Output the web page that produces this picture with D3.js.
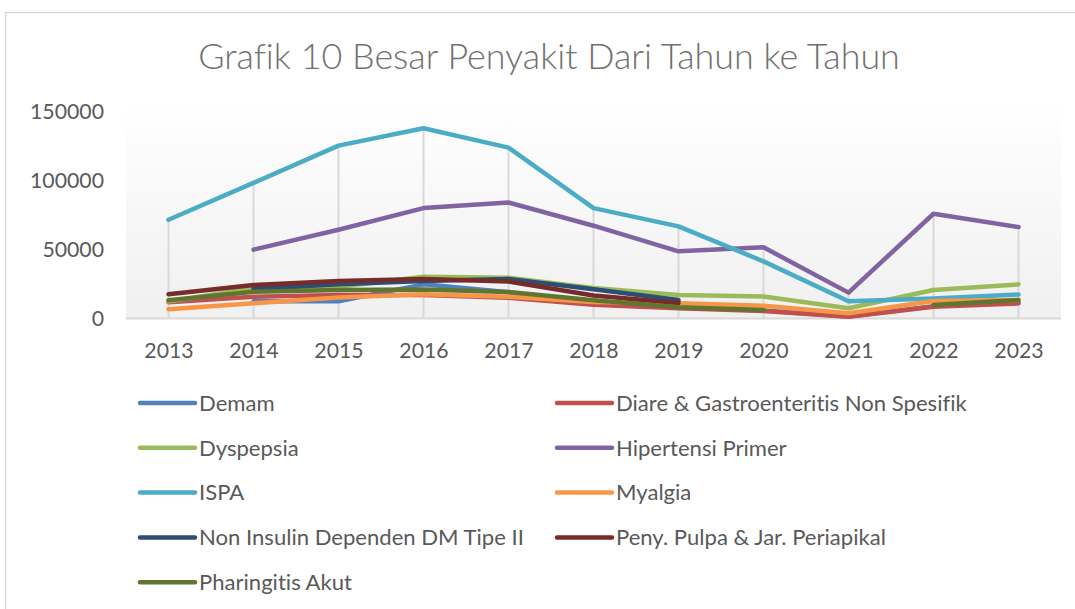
<!DOCTYPE html>
<html>
<head>
<meta charset="utf-8">
<script src="https://cdn.jsdelivr.net/npm/d3@7"></script>
<style>
  html, body { margin: 0; padding: 0; background: #fff; }
  svg { display: block; font-family: Lato, 'Open Sans', sans-serif; font-variant-ligatures: none; }
</style>
</head>
<body>
<svg id="chart" width="1075" height="609"></svg>
<script>
var years = ['2013', '2014', '2015', '2016', '2017', '2018', '2019', '2020', '2021', '2022', '2023']
var yTicks = [0, 50000, 100000, 150000]

var demam = [null, 12500, 12500, 24800, 19000, 10500, 8000, 5800, 1500, 9000, 11500]
var diare = [11800, 15800, 17000, 17000, 15000, 10000, 7400, 5500, 1300, 8600, 11000]
var dyspepsia = [12300, 22000, 23000, 30400, 29600, 22100, 17000, 16000, 7400, 20700, 24800]
var hipertensi = [null, 50000, 64500, 80200, 84300, 67400, 48800, 51700, 18800, 76100, 66400]
var ispa = [71700, 98500, 125600, 138200, 124100, 80200, 66900, 41500, 12500, 14500, 17400]
var myalgia = [6700, 11000, 15300, 17600, 15800, 12000, 11000, 9200, 3800, 12700, 13400]
var nonInsulin = [null, 21500, 24800, 27200, 28700, 21300, 13400, null, null, null, null]
var penyPulpa = [17600, 24300, 27200, 28700, 26900, 16700, 11300, null, null, null, null]
var pharingitis = [13200, 19500, 20700, 21000, 19300, 13200, 8100, 6200, null, 9800, 13400]

var seriesNames = [
  'Demam',
  'Diare & Gastroenteritis Non Spesifik',
  'Dyspepsia',
  'Hipertensi Primer',
  'ISPA',
  'Myalgia',
  'Non Insulin Dependen DM Tipe II',
  'Peny. Pulpa & Jar. Periapikal',
  'Pharingitis Akut'
]
var seriesValues = [demam, diare, dyspepsia, hipertensi, ispa, myalgia, nonInsulin, penyPulpa, pharingitis]
var seriesColors = ['#4F81BD', '#C0504D', '#9BBB59', '#8064A2', '#4BACC6', '#F79646', '#2C4D75', '#772C2A', '#5F7530']

var svg = d3.select('#chart'),
  textColor = '#595959',
  plot = { left: 126, right: 1061, top: 100, bottom: 318.5 }

var x = d3
  .scalePoint()
  .domain(years)
  .range([plot.left, plot.right])
  .padding(0.5)
var y = d3
  .scaleLinear()
  .domain([0, 150000])
  .range([plot.bottom, 112])

// scale a text's font so that it spans the given width
function fitWidth(sel, width) {
  var len = sel.node().getComputedTextLength()
  var size = parseFloat(sel.style('font-size'))
  return size * width / len
}

// chart frame
svg
  .append('rect')
  .attr('x', 5.5)
  .attr('y', 12.5)
  .attr('width', 1080)
  .attr('height', 610)
  .attr('fill', '#fff')
  .attr('stroke', '#d9d9d9')
  .attr('stroke-width', 1.5)

// plot background gradient
var grad = svg
  .append('defs')
  .append('linearGradient')
  .attr('id', 'plotBg')
  .attr('x1', 0)
  .attr('x2', 0)
  .attr('y1', 0)
  .attr('y2', 1)
grad.append('stop').attr('offset', '0%').attr('stop-color', '#ffffff')
grad.append('stop').attr('offset', '100%').attr('stop-color', '#f0f0f0')

svg
  .append('rect')
  .attr('x', plot.left)
  .attr('y', plot.top)
  .attr('width', plot.right - plot.left)
  .attr('height', plot.bottom - plot.top)
  .attr('fill', 'url(#plotBg)')

// title
var title = svg
  .append('text')
  .attr('x', 549)
  .attr('y', 69)
  .attr('text-anchor', 'middle')
  .attr('fill', '#707070')
  .style('font-weight', 300)
  .style('font-size', '30px')
  .text('Grafik 10 Besar Penyakit Dari Tahun ke Tahun')
title.style('font-size', fitWidth(title, 702) + 'px')

// drop lines from the highest point of each year
var maxByYear = years.map(function(yr, i) {
  return d3.max(seriesValues, function(s) {
    return s[i]
  })
})
svg
  .append('g')
  .attr('class', 'droplines')
  .selectAll('line')
  .data(years)
  .enter()
  .append('line')
  .attr('x1', function(d) {
    return x(d)
  })
  .attr('x2', function(d) {
    return x(d)
  })
  .attr('y1', function(d, i) {
    return y(maxByYear[i])
  })
  .attr('y2', plot.bottom)
  .attr('stroke', '#d9d9d9')
  .attr('stroke-width', 2)

// category axis line
svg
  .append('line')
  .attr('x1', plot.left)
  .attr('x2', plot.right)
  .attr('y1', plot.bottom)
  .attr('y2', plot.bottom)
  .attr('stroke', '#d9d9d9')
  .attr('stroke-width', 2)

// axes
var yAxis = svg
  .append('g')
  .attr('transform', 'translate(' + plot.left + ',0)')
  .call(
    d3
      .axisLeft(y)
      .tickValues(yTicks)
      .tickSize(0)
      .tickPadding(22)
      .tickFormat(d3.format('d'))
  )
var xAxis = svg
  .append('g')
  .attr('transform', 'translate(0,' + plot.bottom + ')')
  .call(
    d3
      .axisBottom(x)
      .tickSize(0)
      .tickPadding(32)
  )
svg.selectAll('.domain').remove()
var tickText = svg
  .selectAll('.tick text')
  .attr('fill', textColor)
  .style('font-family', 'Lato, "Open Sans", sans-serif')
  .style('font-size', '20px')
xAxis.selectAll('.tick text').attr('dy', '0.35em')
var tickSize = fitWidth(yAxis.selectAll('.tick text').filter(function(d) {
  return d === 150000
}), 74)
tickText.style('font-size', tickSize + 'px')

// series lines
var line = d3
  .line()
  .defined(function(d) {
    return d != null
  })
  .x(function(d, i) {
    return x(years[i])
  })
  .y(function(d) {
    return y(d)
  })

svg
  .append('g')
  .attr('class', 'series')
  .selectAll('path')
  .data(seriesValues)
  .enter()
  .append('path')
  .attr('d', line)
  .attr('fill', 'none')
  .attr('stroke', function(d, i) {
    return seriesColors[i]
  })
  .attr('stroke-width', 4.5)
  .attr('stroke-linejoin', 'round')
  .attr('stroke-linecap', 'round')

// legend, two columns
var legendCols = [140, 557],
  legendTop = 403,
  legendStep = 44.8

var legend = svg
  .append('g')
  .attr('class', 'legend')
  .selectAll('g')
  .data(seriesNames)
  .enter()
  .append('g')
  .attr('transform', function(d, i) {
    return (
      'translate(' + legendCols[i % 2] + ',' + (legendTop + Math.floor(i / 2) * legendStep) + ')'
    )
  })
legend
  .append('line')
  .attr('x1', 0)
  .attr('x2', 55)
  .attr('stroke', function(d, i) {
    return seriesColors[i]
  })
  .attr('stroke-width', 4.5)
  .attr('stroke-linecap', 'round')
var legendText = legend
  .append('text')
  .attr('x', 59)
  .attr('dy', '0.35em')
  .attr('fill', textColor)
  .style('font-size', '19px')
  .text(function(d) {
    return d
  })
var legendSize = fitWidth(legendText.filter(function(d, i) {
  return i === 1
}), 351)
legendText.style('font-size', legendSize + 'px')
</script>
</body>
</html>
